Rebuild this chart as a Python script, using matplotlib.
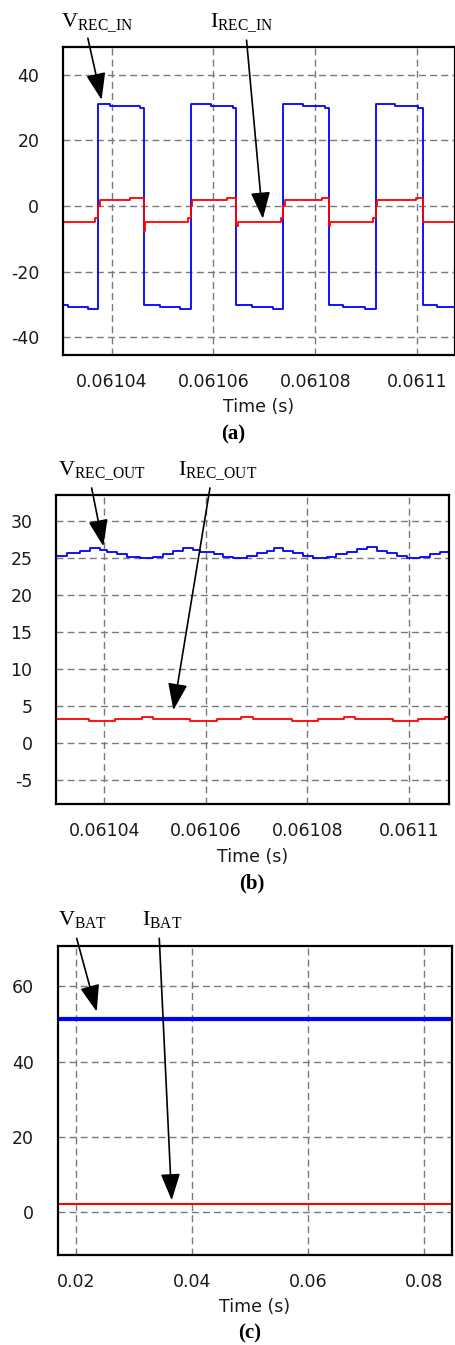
import matplotlib
matplotlib.use("Agg")
import matplotlib.pyplot as plt

plt.rcParams['font.family'] = ['DejaVu Sans']
plt.rcParams['axes.unicode_minus'] = False
plt.rcParams['mathtext.fontset'] = 'custom'
plt.rcParams['mathtext.rm'] = 'Liberation Serif'
plt.rcParams['mathtext.it'] = 'Liberation Serif:italic'

# (a) rectifier input: voltage and current (step waveforms)
t_vin = [0.0610300, 0.0610313, 0.0610353, 0.0610373, 0.0610396, 0.0610455,
         0.0610464, 0.0610494, 0.0610534, 0.0610555, 0.0610595, 0.0610638,
         0.0610645, 0.0610675, 0.0610717, 0.0610737, 0.0610776, 0.0610819,
         0.0610827, 0.0610854, 0.0610898, 0.0610919, 0.0610957, 0.0611002,
         0.0611011, 0.0611039, 0.0611076]
v_vin = [-30.3, -30.8, -31.5, 31.2, 30.6, 30.0,
         -30.3, -30.8, -31.5, 31.2, 30.6, 30.0,
         -30.3, -30.8, -31.5, 31.2, 30.6, 30.0,
         -30.3, -30.8, -31.5, 31.2, 30.6, 30.0,
         -30.3, -30.8, -30.8]
t_iin = [0.0610300, 0.0610367, 0.0610373, 0.0610376, 0.0610435, 0.0610464,
         0.0610466, 0.0610549, 0.0610555, 0.0610558, 0.0610626, 0.0610645,
         0.0610648, 0.0610733, 0.0610737, 0.0610740, 0.0610814, 0.0610827,
         0.0610830, 0.0610913, 0.0610919, 0.0610922, 0.0610999, 0.0611011,
         0.0611076]
i_iin = [-4.8, -3.8, 0.0, 1.8, 2.5, -7.5,
         -4.8, -3.8, 0.0, 1.8, 2.5, -6.0,
         -4.8, -3.8, 0.0, 1.8, 2.5, -6.0,
         -4.8, -3.8, 0.0, 1.8, 2.5, -4.8,
         -4.8]

# (b) rectifier output
t_vout = [0.0610305, 0.0610326, 0.0610352, 0.0610372, 0.0610392, 0.0610405,
          0.0610424, 0.0610444, 0.0610470, 0.0610496, 0.0610516, 0.0610536,
          0.0610554, 0.0610575, 0.0610588, 0.0610615, 0.0610634, 0.0610654,
          0.0610680, 0.0610700, 0.0610720, 0.0610734, 0.0610752, 0.0610772,
          0.0610792, 0.0610811, 0.0610838, 0.0610857, 0.0610877, 0.0610897,
          0.0610917, 0.0610936, 0.0610956, 0.0610976, 0.0610995, 0.0611022,
          0.0611041, 0.0611061, 0.0611079]
v_vout = [25.31, 25.68, 26.03, 26.36, 26.13, 25.90,
          25.58, 25.22, 25.00, 25.22, 25.58, 26.03,
          26.36, 26.13, 25.90, 25.58, 25.13, 25.00,
          25.31, 25.68, 26.03, 26.36, 26.03, 25.68,
          25.31, 25.00, 25.13, 25.58, 25.90, 26.22,
          26.45, 26.03, 25.68, 25.31, 25.00, 25.22,
          25.58, 25.90, 25.90]
t_iout = [0.0610305, 0.0610369, 0.0610421, 0.0610474, 0.0610496, 0.0610569,
          0.0610621, 0.0610670, 0.0610693, 0.0610769, 0.0610821, 0.0610871,
          0.0610893, 0.0610969, 0.0611018, 0.0611071, 0.0611079]
i_iout = [3.25, 3.03, 3.25, 3.52, 3.25, 3.03,
          3.25, 3.52, 3.25, 3.03, 3.25, 3.52,
          3.25, 3.03, 3.25, 3.52, 3.52]

# (c) battery
t_bat = [0.0168, 0.0848]
v_bat = [51.2, 51.2]
i_bat = [2.1, 2.1]

xt_ab = [0.06104, 0.06106, 0.06108, 0.0611]
xl_ab = ['0.06104', '0.06106', '0.06108', '0.0611']
yt_a = [-40, -20, 0, 20, 40]
yt_b = [-5, 0, 5, 10, 15, 20, 25, 30]
xt_c = [0.02, 0.04, 0.06, 0.08]
xl_c = ['0.02', '0.04', '0.06', '0.08']
yt_c = [0, 20, 40, 60]

fig = plt.figure(figsize=(4.56, 13.45), dpi=100)
ax1 = fig.add_axes([0.138, 0.736, 0.860, 0.229])
ax2 = fig.add_axes([0.123, 0.402, 0.862, 0.2297])
ax3 = fig.add_axes([0.1265, 0.0669, 0.864, 0.2297])


def style(ax, xt, xl, yt):
    ax.set_xticks(xt)
    ax.set_xticklabels(xl)
    ax.set_yticks(yt)
    ax.tick_params(length=0, labelsize=12.5, pad=13, labelcolor='#1a1a1a')
    ax.tick_params(axis='y', pad=17)
    ax.grid(True, color='#7a7a7a', linestyle=(0, (5, 3)), linewidth=1.0)
    ax.set_axisbelow(True)
    for s in ax.spines.values():
        s.set_linewidth(1.6)
        s.set_color('black')
    ax.set_xlabel('Time (s)', fontsize=12.5, color='#1a1a1a')
    ax.xaxis.set_label_coords(0.5, -0.14)


arr = dict(arrowstyle='-|>,head_length=0.55,head_width=0.2', color='black',
           lw=1.2, mutation_scale=30, shrinkA=0, shrinkB=0)

# (a)
ax1.plot(t_vin, v_vin, color='#0000ff', lw=1.3, drawstyle='steps-post')
ax1.plot(t_iin, i_iin, color='#ff0000', lw=1.3, drawstyle='steps-post')
ax1.set_xlim(0.0610304, 0.0611075)
ax1.set_ylim(-45.5, 48.5)
style(ax1, xt_ab, xl_ab, yt_a)
ax1.text(-0.005, 1.065, r'$\mathrm{V}_{\mathrm{REC\_IN}}$', transform=ax1.transAxes,
         fontsize=16, va='baseline')
ax1.text(0.375, 1.065, r'$\mathrm{I}_{\mathrm{REC\_IN}}$', transform=ax1.transAxes,
         fontsize=16, va='baseline')
ax1.annotate('', xy=(0.0610380, 32.4), xytext=(0.0610353, 51.2),
             arrowprops=arr, annotation_clip=False)
ax1.annotate('', xy=(0.0610697, -3.9), xytext=(0.0610665, 50.6),
             arrowprops=arr, annotation_clip=False)

# (b)
ax2.plot(t_vout, v_vout, color='#0000ff', lw=1.3, drawstyle='steps-post')
ax2.plot(t_iout, i_iout, color='#ff0000', lw=1.3, drawstyle='steps-post')
ax2.set_xlim(0.0610305, 0.0611079)
ax2.set_ylim(-8.3, 33.5)
style(ax2, xt_ab, xl_ab, yt_b)
ax2.text(0.005, 1.065, r'$\mathrm{V}_{\mathrm{REC\_OUT}}$', transform=ax2.transAxes,
         fontsize=16, va='baseline')
ax2.text(0.31, 1.065, r'$\mathrm{I}_{\mathrm{REC\_OUT}}$', transform=ax2.transAxes,
         fontsize=16, va='baseline')
ax2.annotate('', xy=(0.0610398, 26.6), xytext=(0.0610375, 34.5),
             arrowprops=arr, annotation_clip=False)
ax2.annotate('', xy=(0.0610536, 4.44), xytext=(0.0610608, 34.5),
             arrowprops=arr, annotation_clip=False)

# (c)
ax3.plot(t_bat, v_bat, color='#0000ff', lw=3.0)
ax3.plot(t_bat, i_bat, color='#ff0000', lw=1.5)
ax3.set_xlim(0.01685, 0.08472)
ax3.set_ylim(-11.3, 70.6)
style(ax3, xt_c, xl_c, yt_c)
ax3.text(0.0, 1.068, r'$\mathrm{V}_{\mathrm{BAT}}$', transform=ax3.transAxes,
         fontsize=16, va='baseline')
ax3.text(0.214, 1.068, r'$\mathrm{I}_{\mathrm{BAT}}$', transform=ax3.transAxes,
         fontsize=16, va='baseline')
ax3.annotate('', xy=(0.02357, 53.2), xytext=(0.02012, 72.65),
             arrowprops=arr, annotation_clip=False)
ax3.annotate('', xy=(0.03649, 3.2), xytext=(0.03435, 72.65),
             arrowprops=arr, annotation_clip=False)

for y, lab, x in [(0.6766, '(a)', 0.511), (0.3435, '(b)', 0.553), (0.0089, '(c)', 0.548)]:
    fig.text(x, y, lab, ha='center', va='center', fontsize=15,
             family='Liberation Serif', weight='bold')

fig.savefig('out.png', dpi=100)
